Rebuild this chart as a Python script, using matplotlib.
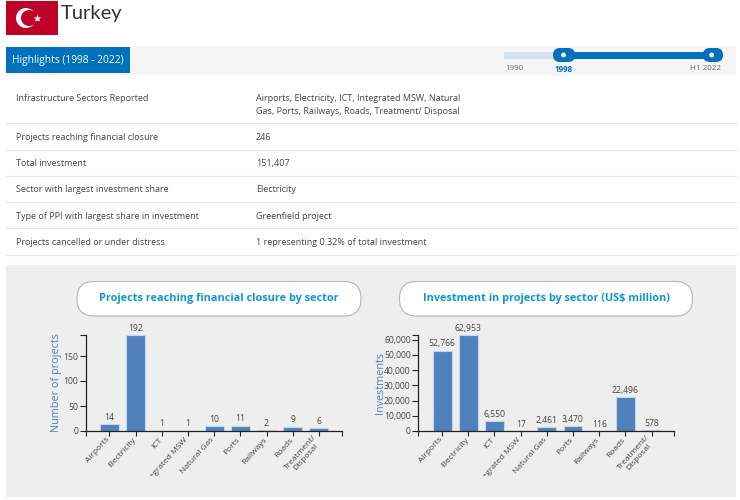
import matplotlib
matplotlib.use("Agg")
import matplotlib.pyplot as plt
from matplotlib.patches import Rectangle, FancyBboxPatch, Circle
from matplotlib.transforms import Bbox, Affine2D

plt.rcParams['font.family'] = ['Open Sans', 'DejaVu Sans']

sectors = ["Airports", "Electricity", "ICT", "Integrated MSW", "Natural Gas", "Ports",
           "Railways", "Roads", "Treatment/\nDisposal"]
projects = [14, 192, 1, 1, 10, 11, 2, 9, 6]
investment = [52766, 62953, 6550, 17, 2461, 3470, 116, 22496, 578]
project_ticks = [0, 50, 100, 150]
invest_ticks = [0, 10000, 20000, 30000, 40000, 50000, 60000]
table_rows = [
    ("Infrastructure Sectors Reported", "Airports, Electricity, ICT, Integrated MSW, Natural\nGas, Ports, Railways, Roads, Treatment/ Disposal"),
    ("Projects reaching financial closure", "246"),
    ("Total investment", "151,407"),
    ("Sector with largest investment share", "Electricity"),
    ("Type of PPI with largest share in investment", "Greenfield project"),
    ("Projects cancelled or under distress", "1 representing 0.32% of total investment"),
]
row_text_y = [98.5, 137.5, 163.5, 189.5, 216.5, 242.5]
row_line_y = [123, 150, 176, 202, 228, 255]

W, H = 740, 500
fig = plt.figure(figsize=(W/100, H/100), dpi=100, facecolor='white')
bg = fig.add_axes([0, 0, 1, 1])
bg.set_xlim(0, W); bg.set_ylim(H, 0); bg.axis('off')

BLUE = '#0071bc'
TXT = '#444444'
# flag
bg.add_patch(Rectangle((6, 1), 52, 34, fc='#c00027', ec='none'))
bg.add_patch(Circle((26, 18), 10, fc='white', ec='none'))
bg.add_patch(Circle((29, 18), 8, fc='#c00027', ec='none'))
bg.plot([36.5], [18], marker='*', ms=6, color='white', mec='none')
bg.text(61, 14, "Turkey", fontsize=14.5, color='#333333', family='Lato', va='center', ha='left')

# highlights band
bg.add_patch(Rectangle((6, 46), 730, 28.5, fc='#f5f5f5', ec='none'))
bg.add_patch(Rectangle((6, 47), 124, 26, fc=BLUE, ec='none'))
bg.text(12.5, 60, "Highlights (1998 - 2022)", color='white', fontsize=7.4, va='center', ha='left')

# slider
bg.add_patch(Rectangle((504, 52), 60, 7, fc='#d6e0f3', ec='none'))
bg.add_patch(Rectangle((564, 52), 148, 7, fc=BLUE, ec='none'))
for x0, w, cx in ((553, 22, 563.5), (703, 20, 711.7)):
    bg.add_patch(FancyBboxPatch((x0, 48), w, 14, boxstyle="round,pad=0,rounding_size=6.9",
                                fc=BLUE, ec='none'))
    bg.add_patch(Circle((cx, 55), 2.4, fc='white', ec='none'))
bg.text(514.5, 69, "1990", fontsize=5.8, color='#666666', ha='center', va='center')
bg.text(564, 69, "1998", fontsize=5.8, color=BLUE, ha='center', va='center', weight='bold')
bg.text(705.5, 69, "H1 2022", fontsize=5.8, color='#666666', ha='center', va='center')

# table
for (a, b), ty, ly in zip(table_rows, row_text_y, row_line_y):
    bg.text(16, ty, a, fontsize=6.45, color=TXT, va='center', ha='left')
    for i, line in enumerate(b.split("\n")):
        bg.text(256, ty + 13*i, line, fontsize=6.45, color=TXT, va='center', ha='left')
    bg.plot([6, 736], [ly, ly], color='#e6e6e6', lw=0.8)

# grey panel
bg.add_patch(Rectangle((6, 265), 730, 232, fc='#eeeeee', ec='none'))
for x0, x1, title in ((77, 361, "Projects reaching financial closure by sector"),
                      (399.5, 692.5, "Investment in projects by sector (US$ million)")):
    bg.add_patch(FancyBboxPatch((x0, 281.5), x1 - x0, 34.5,
                                boxstyle="round,pad=0,rounding_size=17", fc='white', ec='#b5b5b5', lw=0.8))
    bg.text((x0 + x1)/2, 298.5, title, fontsize=7.8, color='#0a96d6', weight='bold', ha='center', va='center')


def chart(left, right, top, bottom, xmin, xmax, ymax, vals, ticks, fmt, ylabel, ylab_x):
    ax = fig.add_axes([left/W, 1 - bottom/H, (right-left)/W, (bottom-top)/H], facecolor='none')
    xs = list(range(len(vals)))
    ax.bar(xs, vals, width=0.72, color='#4f81bd', edgecolor='#c6d6ec', linewidth=0.8, clip_on=False)
    ax.set_xlim(xmin, xmax); ax.set_ylim(0, ymax)
    for s in ('top', 'right'):
        ax.spines[s].set_visible(False)
    for s in ('left', 'bottom'):
        ax.spines[s].set_color('#222222'); ax.spines[s].set_linewidth(0.9)
    ax.set_yticks(ticks + [ymax])
    ax.set_yticklabels([fmt(t) for t in ticks] + [''], fontsize=6.2, color=TXT)
    ax.tick_params(axis='y', length=4, width=0.8, pad=1.5, color='#222222')
    ax.set_xticks([xmin] + xs + [xmax])
    ax.set_xticklabels([''] + sectors + [''], fontsize=6.0, color=TXT, rotation=48, ha='right',
                       va='center', rotation_mode='anchor', linespacing=1.0, multialignment='center')
    ax.tick_params(axis='x', length=3.5, width=0.8, pad=2, color='#222222')
    shift = Affine2D().translate(-1, 0)
    for lab in ax.get_xticklabels():
        lab.set_transform(lab.get_transform() + shift)
        lab.set_clip_on(True)
        lab.set_clip_box(Bbox.from_extents(0, H - 476, W, H))
    for x, v in zip(xs, vals):
        ax.annotate(f"{v:,}", (x, v), xytext=(0, 1.5), textcoords='offset points', ha='center', va='bottom',
                    fontsize=6.2, color=TXT, annotation_clip=False)
    bg.text(ylab_x, (top + bottom)/2, ylabel, rotation=90, fontsize=7.8, color='#4f81bd', ha='center', va='center')
    return ax


chart(86, 341.7, 335, 431, -0.89, 8.87, 192, projects, project_ticks, lambda t: f"{t}", "Number of projects", 57)
chart(418.3, 674.3, 335, 431, -0.91, 8.87, 62953, investment, invest_ticks, lambda t: f"{t:,}", "Investments", 380)

fig.savefig("out.png", dpi=100)
